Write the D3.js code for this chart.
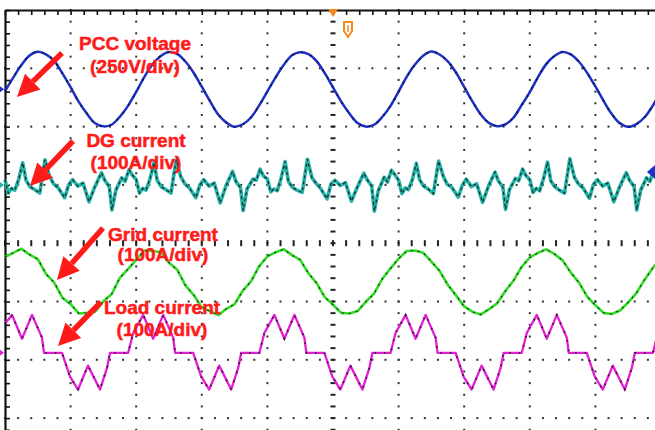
<!DOCTYPE html>
<html>
<head>
<meta charset="utf-8">
<script src="https://cdn.jsdelivr.net/npm/d3@7"></script>
<style>
  html, body { margin: 0; padding: 0; background: #ffffff; }
  svg { display: block; }
</style>
</head>
<body>
<svg id="chart" width="655" height="430"></svg>
<script>
// ---------------- DATA ----------------
// time base: 10 ms/div, 10 divisions
const sampleStep = 1.25; // ms, for the uniformly sampled traces

// PCC voltage (V), 250 V/div
const pccVoltage = [
  -8, 50, 104, 145, 161, 150, 122, 68, 9, -54, -105, -146, -159, -152, -118, -71,
  -11, 53, 107, 143, 160, 152, 119, 71, 11, -51, -108, -143, -161, -150, -121, -69,
  -9, 51, 105, 146, 159, 151, 121, 69, 8, -53, -104, -145, -160, -152, -119, -72,
  -10, 54, 106, 144, 162, 149, 120, 72, 10, -52, -107, -144, -158, -151, -122, -68,
  -12, 52, 108, 143, 160, 150, 118, 70, 12, -50, -106, -146, -161, -149, -120, -70,
  -9
];

// Grid current (A), 100 A/div
const gridCurrent = [
  43, 50, 57, 47, 39, 14, -1, -27, -38, -54, -53, -51, -33, -21, 7, 22,
  38, 54, 53, 51, 33, 21, -6, -22, -44, -50, -57, -46, -38, -15, 1, 27,
  44, 51, 56, 46, 38, 15, -2, -26, -39, -53, -54, -50, -34, -20, 5, 23,
  40, 53, 54, 50, 35, 19, -5, -23, -42, -51, -56, -47, -37, -16, 2, 26,
  42, 50, 56, 48, 37, 16, -1, -25, -40, -53, -55, -49, -35, -19, 4, 24,
  41
];

// DG current (A), 100 A/div
const dgTimes = [
  0.0, 0.5, 1.0, 1.5, 2.1, 2.7, 3.2, 3.8, 4.5, 5.3, 6.1, 6.8, 7.4, 8.1, 9.1, 9.7, 10.3, 11.1, 11.9,
  12.8, 13.7, 14.7, 15.2, 15.9, 16.3, 16.9, 17.8, 18.3, 18.9, 19.4, 20.0, 20.5, 21.0, 21.5, 22.1, 22.7, 23.2, 23.8, 24.5, 25.3, 26.1, 26.8, 27.4, 28.1, 29.1, 29.7, 30.3, 31.1, 31.9,
  32.8, 33.7, 34.7, 35.2, 35.9, 36.3, 36.9, 37.8, 38.3, 38.9, 39.4, 40.0, 40.5, 41.0, 41.5, 42.1, 42.7, 43.2, 43.8, 44.5, 45.3, 46.1, 46.8, 47.4, 48.1, 49.1, 49.7, 50.3, 51.1, 51.9,
  52.8, 53.7, 54.7, 55.2, 55.9, 56.3, 56.9, 57.8, 58.3, 58.9, 59.4, 60.0, 60.5, 61.0, 61.5, 62.1, 62.7, 63.2, 63.8, 64.5, 65.3, 66.1, 66.8, 67.4, 68.1, 69.1, 69.7, 70.3, 71.1, 71.9,
  72.8, 73.7, 74.7, 75.2, 75.9, 76.3, 76.9, 77.8, 78.3, 78.9, 79.4, 80.0, 80.5, 81.0, 81.5, 82.1, 82.7, 83.2, 83.8, 84.5, 85.3, 86.1, 86.8, 87.4, 88.1, 89.1, 89.7, 90.3, 91.1, 91.9,
  92.8, 93.7, 94.7, 95.2, 95.9, 96.3, 96.9, 97.8, 98.3, 98.9, 99.4, 100.0
];
const dgCurrent = [
  9, -14, -6, -9, 10, 38, 8, -3, -8, -14, 43, 14, 2, -5, -22, 0, 9, -2, 3,
  -29, -3, 21, 8, -3, -43, -9, 12, 6, 26, 17, 9, -14, -6, -9, 10, 38, 8, -3, -8, -14, 43, 14, 2, -5, -22, 0, 9, -2, 3,
  -31, -1, 23, 6, -5, -44, -7, 10, 8, 27, 15, 10, -12, -7, -10, 12, 40, 6, -4, -9, -13, 44, 12, 3, -6, -24, 2, 8, -1, 4,
  -28, -4, 20, 9, -2, -45, -10, 13, 5, 25, 18, 8, -15, -5, -8, 9, 37, 9, -2, -7, -15, 41, 15, 1, -4, -21, -1, 10, -3, 2,
  -30, -2, 22, 7, -4, -42, -8, 11, 7, 27, 16, 9, -13, -6, -10, 11, 39, 7, -3, -9, -14, 45, 13, 2, -5, -23, 1, 9, -2, 3,
  -29, -3, 21, 8, -3, -43, -9, 12, 6, 26, 17, 9
];

// Load current (A), 100 A/div
const loadTimes = [
  0.0, 1.07, 2.59, 4.12, 5.64, 5.94, 8.69, 9.91, 11.13, 12.65, 14.48, 15.55, 16.01, 18.78,
  19.54, 21.07, 22.59, 24.12, 25.64, 25.94, 28.69, 29.91, 31.13, 32.65, 34.48, 35.55, 36.01, 38.78,
  39.54, 41.07, 42.59, 44.12, 45.64, 45.94, 48.69, 49.91, 51.13, 52.65, 54.48, 55.55, 56.01, 58.78,
  59.54, 61.07, 62.59, 64.12, 65.64, 65.94, 68.69, 69.91, 71.13, 72.65, 74.48, 75.55, 76.01, 78.78,
  79.54, 81.07, 82.59, 84.12, 85.64, 85.94, 88.69, 89.91, 91.13, 92.65, 94.48, 95.55, 96.01, 98.78,
  99.54, 100.0
];
const loadCurrent = [
  50, 65, 24, 65, 26, 0, 0, -41, -63, -22, -63, -26, 0, 0,
  34, 65, 24, 65, 26, 0, 0, -41, -63, -22, -63, -26, 0, 0,
  34, 65, 24, 65, 26, 0, 0, -41, -63, -22, -63, -26, 0, 0,
  34, 65, 24, 65, 26, 0, 0, -41, -63, -22, -63, -26, 0, 0,
  34, 65, 24, 65, 26, 0, 0, -41, -63, -22, -63, -26, 0, 0,
  34, 48
];

// channel settings (scale per division, vertical offset in divisions)
const channelNames = ["PCC voltage", "DG current", "Grid current", "Load current"];
const channelScales = [250, 100, 100, 100];
const channelOffsets = [2.64, 1.0, -0.665, -1.88];
const channelColors = ["#1d2fc4", "#25b3a8", "#30dc26", "#e21ed4"];
const labelLines = [["PCC voltage", "(250V/div)"], ["DG current", "(100A/div)"],
                    ["Grid current", "(100A/div)"], ["Load current", "(100A/div)"]];

// ---------------- DRAW ----------------
const svg = d3.select("#chart");
const x = d3.scaleLinear().domain([0, 100]).range([5, 661]);
const yDiv = d3.scaleLinear().domain([-4, 4]).range([476.4, 10]);

svg.append("rect").attr("width", 655).attr("height", 430).attr("fill", "#ffffff");

const grid = svg.append("g");
const xMinor = d3.range(0, 100.01, 2);
const yMinor = d3.range(-4, 4.001, 0.2);
// dotted horizontal lines
[-3, -2, -1, 1, 2, 3].forEach(j => {
  grid.selectAll(null).data(xMinor).enter().append("rect")
    .attr("x", d => x(d) - 1).attr("y", yDiv(j) - 1)
    .attr("width", 2).attr("height", 2).attr("fill", "#333");
});
// dotted vertical lines
[10, 20, 30, 40, 60, 70, 80, 90].forEach(k => {
  grid.selectAll(null).data(yMinor).enter().append("rect")
    .attr("x", x(k) - 1).attr("y", d => yDiv(d) - 1)
    .attr("width", 2).attr("height", 2).attr("fill", "#333");
});
// center vertical: short horizontal dashes
grid.selectAll(null).data(yMinor).enter().append("rect")
  .attr("x", x(50) - 2.5).attr("y", d => yDiv(d) - 1)
  .attr("width", 5).attr("height", 2).attr("fill", "#222");
// center horizontal: short vertical ticks
grid.selectAll(null).data(xMinor).enter().append("rect")
  .attr("x", d => x(d) - 1).attr("y", yDiv(0) - 3)
  .attr("width", 2).attr("height", 6).attr("fill", "#222");

// frame axes (top & left) with minor ticks
const topAxis = d3.axisBottom(x).tickValues(xMinor).tickSize(5).tickSizeOuter(0).tickFormat("");
const gTop = svg.append("g").attr("transform", `translate(0,${yDiv(4)})`).call(topAxis);
gTop.select(".domain").attr("stroke", "#111").attr("stroke-width", 2.2);
gTop.selectAll(".tick line").attr("stroke", "#111").attr("stroke-width", 1.6);
const leftAxis = d3.axisRight(yDiv).tickValues(yMinor).tickSize(5).tickSizeOuter(0).tickFormat("");
const gLeft = svg.append("g").attr("transform", `translate(${x(0)},0)`).call(leftAxis);
gLeft.select(".domain").attr("stroke", "#111").attr("stroke-width", 2.2);
gLeft.selectAll(".tick line").attr("stroke", "#111").attr("stroke-width", 1.6);

// traces
function chY(ci, v) { return yDiv(channelOffsets[ci] + v / channelScales[ci]); }
const series = [
  pccVoltage.map((v, i) => [i * sampleStep, v]),
  dgCurrent.map((v, i) => [dgTimes[i], v]),
  gridCurrent.map((v, i) => [i * sampleStep, v]),
  loadCurrent.map((v, i) => [loadTimes[i], v])
];
const widths = [2.5, 3.6, 2.6, 2.3];
const curves = [d3.curveCatmullRom, d3.curveLinear, d3.curveLinear, d3.curveLinear];
const overlayDash = ["1.5,8", "3,3", "2,5", "1.5,8"];
const overlayWidth = [1.8, 1.2, 1.1, 1.8];
series.forEach((pts, ci) => {
  const line = d3.line().x(d => x(d[0])).y(d => chY(ci, d[1])).curve(curves[ci]);
  svg.append("path").datum(pts).attr("d", line)
    .attr("fill", "none").attr("stroke", channelColors[ci])
    .attr("stroke-width", widths[ci]).attr("stroke-linejoin", "round");
  svg.append("path").datum(pts).attr("d", line)
    .attr("fill", "none").attr("stroke", "#111")
    .attr("stroke-width", overlayWidth[ci])
    .attr("stroke-dasharray", overlayDash[ci])
    .attr("opacity", 0.85);
});

// channel ground markers on the left edge
[0, 1, 3].forEach(ci => {
  const yy = chY(ci, 0);
  svg.append("path")
    .attr("d", `M0,${yy - 3}L4,${yy}L0,${yy + 3}Z`)
    .attr("fill", channelColors[ci]);
});
// trigger level marker (right edge)
svg.append("path").attr("d", "M655,165L647,172L655,179Z").attr("fill", "#1d2fc4");
// trigger position markers (top)
svg.append("path").attr("d", `M${x(50) - 5},9L${x(50) + 5},9L${x(50)},17Z`).attr("fill", "#f28a1e");
svg.append("path").attr("d", "M344,22L352,22L352,31L348,37L344,31Z")
  .attr("fill", "none").attr("stroke", "#f28a1e").attr("stroke-width", 2);
svg.append("line").attr("x1", 348).attr("x2", 348).attr("y1", 25).attr("y2", 32)
  .attr("stroke", "#f28a1e").attr("stroke-width", 1.5);

// red annotations
const red = "#ff1a1a";
const labelPos = [[135, 50, 73], [136, 147, 169], [163, 241, 261], [162, 314, 336]];
const arrows = [[62, 53, 17, 97], [73, 141, 30, 186], [103, 228, 57, 280], [101, 302, 58, 346]];
labelLines.forEach((lines, i) => {
  const p = labelPos[i];
  lines.forEach((t, k) => {
    svg.append("text").attr("x", p[0]).attr("y", p[1 + k])
      .attr("text-anchor", "middle")
      .attr("font-family", "'Liberation Sans', Arial, sans-serif")
      .attr("font-weight", "bold").attr("font-size", 19)
      .attr("fill", red).attr("stroke", red).attr("stroke-width", 0.5)
      .text(t);
  });
  const [x1, y1, x2, y2] = arrows[i];
  const ang = Math.atan2(y2 - y1, x2 - x1);
  const hl = 22, hw = 11;
  const bx = x2 - hl * Math.cos(ang), by = y2 - hl * Math.sin(ang);
  svg.append("line").attr("x1", x1).attr("y1", y1).attr("x2", bx).attr("y2", by)
    .attr("stroke", red).attr("stroke-width", 5.5);
  svg.append("path")
    .attr("d", `M${x2},${y2}L${bx + hw * Math.sin(ang)},${by - hw * Math.cos(ang)}L${bx - hw * Math.sin(ang)},${by + hw * Math.cos(ang)}Z`)
    .attr("fill", red);
});
</script>
</body>
</html>
